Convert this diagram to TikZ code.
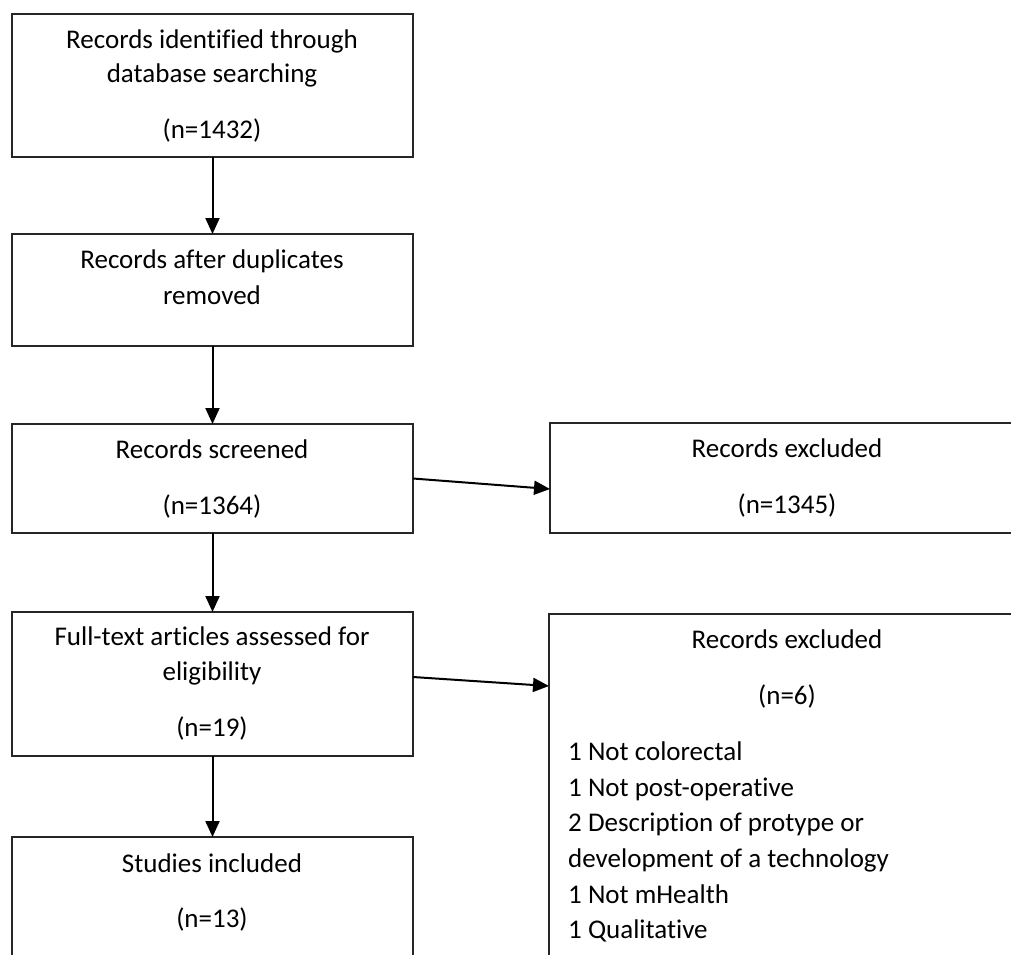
\documentclass[tikz,border=0pt]{standalone}
\usepackage{fontspec}
\setmainfont{Carlito}[Ligatures=NoCommon]
\usetikzlibrary{arrows.meta}
\begin{document}
\begin{tikzpicture}[x=1pt,y=-1pt,
  box/.style={draw=black!85, line width=1.4pt, rectangle, anchor=north west, inner sep=0pt, outer sep=0pt},
  txt/.style={anchor=base, inner sep=0pt, font=\fontsize{27}{34}\selectfont},
  ltxt/.style={anchor=base west, inner sep=0pt, font=\fontsize{27}{34}\selectfont},
  arr/.style={line width=2pt, -{Triangle[length=16pt,width=14pt]}}]
\useasboundingbox (0,0) rectangle (1011,954);
\clip (0,0) rectangle (1011,954);
% boxes
\node[box, minimum width=401pt, minimum height=143pt] (b1) at (12,14) {};
\node[box, minimum width=401pt, minimum height=112pt] (b2) at (12,234) {};
\node[box, minimum width=401pt, minimum height=109pt] (b3) at (12,424) {};
\node[box, minimum width=401pt, minimum height=144pt] (b4) at (12,612) {};
\node[box, minimum width=401pt, minimum height=160pt] (b5) at (12,837) {};
\node[box, minimum width=474pt, minimum height=110pt] (r1) at (550,423) {};
\node[box, minimum width=474pt, minimum height=360pt] (r2) at (549,614) {};
% texts
\node[txt] (t1a) at (212,48) {Records identified through};
\node[txt] (t1b) at (212,82) {database searching};
\node[txt] (t1c) at (212,138) {(n=1432)};
\node[txt] (t2a) at (212,268) {Records after duplicates};
\node[txt] (t2b) at (212,304) {removed};
\node[txt] (t3a) at (212,458) {Records screened};
\node[txt] (t3b) at (212,514) {(n=1364)};
\node[txt] (t4a) at (212,645) {Full-text articles assessed for};
\node[txt] (t4b) at (212,680) {eligibility};
\node[txt] (t4c) at (212,736) {(n=19)};
\node[txt] (t5a) at (212,872) {Studies included};
\node[txt] (t5b) at (212,927) {(n=13)};
\node[txt] (r1a) at (787,457) {Records excluded};
\node[txt] (r1b) at (787,513) {(n=1345)};
\node[txt] (r2a) at (787,648) {Records excluded};
\node[txt] (r2b) at (787,704) {(n=6)};
\node[ltxt] (l1) at (568,760) {1 Not colorectal};
\node[ltxt] (l2) at (568,796) {1 Not post-operative};
\node[ltxt] (l3) at (568,831) {2 Description of protype or};
\node[ltxt] (l4) at (568,867) {development of a technology};
\node[ltxt] (l5) at (568,903) {1 Not mHealth};
\node[ltxt] (l6) at (568,938) {1 Qualitative};
% connectors
\draw[arr] (b1.south) -- (b2.north);
\draw[arr] (b2.south) -- (b3.north);
\draw[arr] (b3.south) -- (b4.north);
\draw[arr] (b4.south) -- (b5.north);
\draw[arr] (b3.east) -- ([yshift=-11pt]r1.west);
\draw[arr] ([yshift=7pt]b4.east) -- ([yshift=-72pt]r2.north west);
\end{tikzpicture}
\end{document}
